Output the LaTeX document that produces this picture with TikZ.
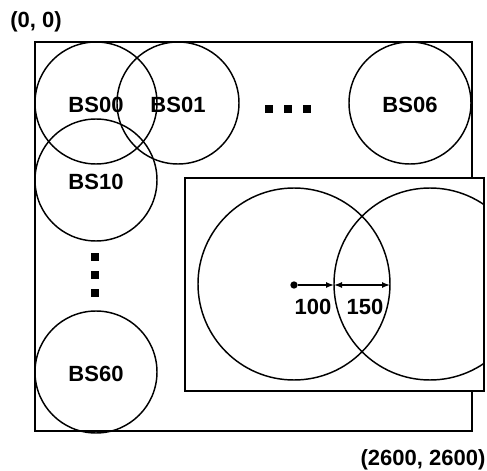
\documentclass[tikz,border=0pt]{standalone}
\usepackage{fontspec}
\setmainfont{Liberation Sans}
\usetikzlibrary{arrows.meta,calc}
\tikzset{
  cell/.style={circle,draw,line width=1.1pt,minimum size=91.5pt,inner sep=0pt,text height=15pt,text depth=0pt,font=\fontsize{16.5}{19}\selectfont\bfseries},
  bigcell/.style={circle,draw,line width=1.1pt,minimum size=144pt,inner sep=0pt},
  sq/.style={fill=black,minimum size=6pt,inner sep=0pt},
  lbl/.style={inner sep=0.75pt,font=\fontsize{16.5}{19}\selectfont\bfseries},
  dist/.style={line width=1pt},
}
\begin{document}
\begin{tikzpicture}[x=0.75pt,y=0.75pt,yscale=-1,xscale=1]
	\useasboundingbox (0,0) rectangle (487,471);

	% whole area
	\draw [line width=1.1pt] (35,42) rectangle (472,431);

	\node [cell] (bs00) at (96,103) {BS00};
	\node [cell] (bs01) at (178,103) {BS01};
	\node [cell] (bs06) at (410,103) {BS06};
	\node [cell] (bs10) at (96,180) {BS10};
	\node [cell] (bs60) at (96,372) {BS60};

	% dots
	\foreach \i/\x in {1/269,2/288,3/307}
		\node [sq] (h\i) at (\x,109) {};
	\foreach \i/\y in {1/257,2/275,3/293}
		\node [sq] (v\i) at (95,\y) {};

	% zoomed part
	\draw [line width=1.1pt, fill=white] (185,178) rectangle (484,391);
	\begin{scope}
		\clip (185,178) rectangle (484,391);
		\node [bigcell] (left) at (294,284) {};
		\node [bigcell] (right) at (430,284) {};
	\end{scope}
	\draw [line width=1.1pt] (185,178) rectangle (484,391);

	\node [circle, fill, inner sep=0pt, minimum size=5.5pt] (ctr) at (294,285) {};
	\coordinate (m) at (334,285);
	\coordinate (e) at (390,285);
	\draw [dist, -{Latex[length=6pt,width=4.5pt]}] (ctr) -- (m);
	\draw [dist, {Latex[length=6pt,width=4.5pt]}-{Latex[length=6pt,width=4.5pt]}] (m) -- (e);

	\node [lbl] (d100) at (313,307) {100};
	\node [lbl] (d150) at (365,307) {150};

	\node [lbl] (o) at (36,22) {(0, 0)};
	\node [lbl] (end) at (423,460) {(2600, 2600)};
\end{tikzpicture}
\end{document}
